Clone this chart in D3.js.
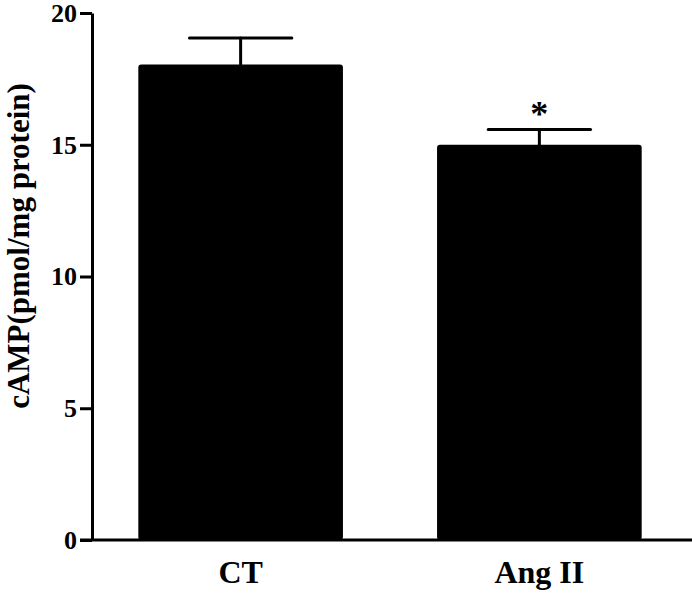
<!DOCTYPE html>
<html lang="en">
<head>
    <meta charset="UTF-8">
    <title>D3</title>
    <script src="https://d3js.org/d3.v7.min.js"></script>
    <style>
        body { margin: 0; background: #fff; }
        text { font-family: "Liberation Serif", "Times New Roman", serif; font-weight: bold; }
    </style>
</head>
<body>
    <div id="viz"></div>
    <script>
        // data
        const groups = ["CT", "Ang II"];
        const means = [18.05, 15.0];
        const sems = [1.0, 0.58];
        const marks = ["", "*"];
        const yTicks = [0, 5, 10, 15, 20];

        const width = 692, height = 593;
        const margin = {top: 13, right: 4, bottom: 53, left: 92};

        const svg = d3.select("#viz")
            .append("svg")
                .attr("width", width)
                .attr("height", height);

        const x = d3.scaleBand()
            .domain(groups)
            .range([margin.left, width - margin.right])
            .paddingInner(0.315)
            .paddingOuter(0.155);

        const y = d3.scaleLinear()
            .domain([0, 20])
            .range([height - margin.bottom, margin.top]);

        // y axis
        const yAxis = svg.append("g")
            .attr("transform", `translate(${margin.left},0)`)
            .call(d3.axisLeft(y).tickValues(yTicks).tickSize(12).tickSizeOuter(0).tickPadding(3));
        yAxis.selectAll("line, path").attr("stroke", "#000").attr("stroke-width", 3);
        yAxis.selectAll("text").attr("font-size", 26).attr("fill", "#000");

        // bars
        svg.selectAll(".bar")
            .data(groups)
            .join("rect")
                .attr("class", "bar")
                .attr("x", d => x(d))
                .attr("width", x.bandwidth())
                .attr("y", (d, i) => y(means[i]))
                .attr("height", (d, i) => y(0) - y(means[i]))
                .attr("rx", 3)
                .attr("fill", "#000");

        // error bars
        const cap = x.bandwidth() / 2;
        const err = svg.append("g").attr("stroke", "#000").attr("stroke-width", 3).attr("stroke-linecap", "round");
        groups.forEach((g, i) => {
            const cx = x(g) + x.bandwidth() / 2;
            err.append("line")
                .attr("x1", cx).attr("x2", cx)
                .attr("y1", y(means[i])).attr("y2", y(means[i] + sems[i]));
            err.append("line")
                .attr("x1", cx - cap / 2).attr("x2", cx + cap / 2)
                .attr("y1", y(means[i] + sems[i])).attr("y2", y(means[i] + sems[i]));
            svg.append("text")
                .attr("x", cx)
                .attr("y", y(means[i] + sems[i]) - 3)
                .attr("text-anchor", "middle")
                .attr("font-size", 36)
                .text(marks[i]);
        });

        // x axis baseline
        svg.append("line")
            .attr("x1", margin.left - 12).attr("x2", width)
            .attr("y1", y(0)).attr("y2", y(0))
            .attr("stroke", "#000").attr("stroke-width", 3);

        // category labels
        svg.append("g")
            .attr("transform", `translate(0,${y(0)})`)
            .call(d3.axisBottom(x).tickSize(0).tickPadding(20))
            .call(g => g.select(".domain").remove())
            .selectAll("text")
                .attr("font-size", 32)
                .attr("fill", "#000");

        // y axis title
        svg.append("text")
            .attr("transform", `translate(29,246) rotate(-90)`)
            .attr("text-anchor", "middle")
            .attr("font-size", 31)
            .text("cAMP(pmol/mg protein)");
    </script>
</body>
</html>
